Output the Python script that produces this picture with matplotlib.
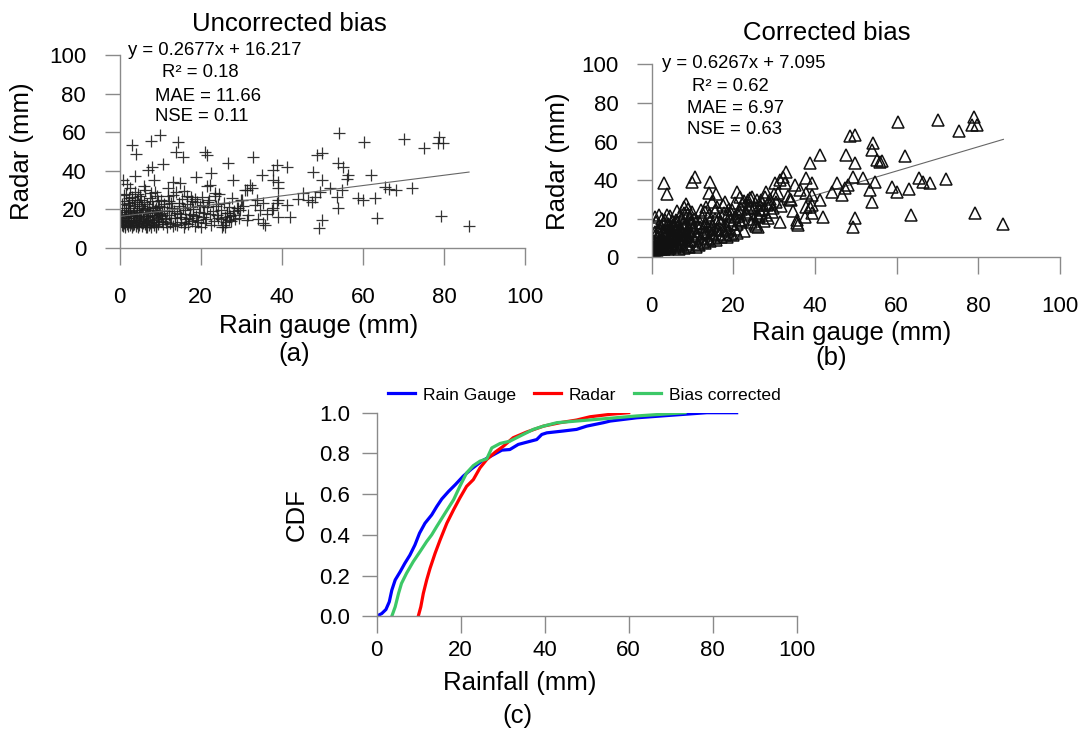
import matplotlib
matplotlib.use('Agg')
import matplotlib.pyplot as plt

plt.rcParams['font.family'] = ['Liberation Sans', 'DejaVu Sans']

# rain gauge vs radar vs bias corrected radar (mm), one entry per event
gauge = [70.2, 75.2, 78.9, 78.6, 79.7, 65.5, 66.5, 68.2, 72.1, 63.0,
         63.6, 79.2, 86.2, 62.0, 54.2, 60.3, 49.9, 48.6, 54.0, 55.2,
         56.4, 56.0, 47.6, 49.9, 41.2, 42.0, 41.2, 45.3, 46.6, 47.4,
         48.2, 49.4, 51.9, 49.9, 49.3, 53.6, 54.0, 54.8, 58.9, 60.1,
         44.1, 38.9, 33.0, 37.9, 35.1, 32.2, 32.6, 31.4, 39.2, 37.9,
         39.2, 39.2, 38.8, 37.9, 37.5, 39.2, 35.5, 35.5, 35.8, 31.4,
         29.7, 33.8, 34.6, 28.0, 30.2, 30.9, 26.8, 21.0, 21.7, 22.6,
         22.2, 18.9, 20.5, 21.5, 22.0, 23.0, 24.0, 25.0, 25.5, 26.0,
         26.5, 27.0, 27.5, 28.0, 29.0, 24.5, 23.5, 20.5, 21.0, 22.5,
         26.0, 26.5, 26.9, 25.3, 29.9, 29.1, 21.5, 23.6, 24.2, 28.6,
         14.4, 14.0, 15.7, 10.7, 13.2, 14.8, 10.2, 10.5, 10.8, 11.0,
         11.3, 11.6, 11.9, 12.2, 12.5, 12.8, 13.1, 13.4, 13.7, 14.0,
         14.3, 14.6, 14.9, 15.2, 15.5, 15.8, 16.1, 16.4, 16.7, 17.0,
         17.3, 17.6, 17.9, 18.2, 18.5, 18.8, 19.1, 19.4, 19.7, 20.0,
         12.0, 16.0, 18.0, 10.4, 13.0, 9.9, 7.8, 8.0, 7.0, 5.0,
         5.2, 5.4, 5.6, 5.8, 6.0, 6.2, 6.4, 6.6, 6.8, 7.0,
         7.2, 7.4, 7.6, 7.8, 8.0, 8.2, 8.4, 8.6, 8.8, 9.0,
         9.2, 9.4, 9.6, 9.8, 6.1, 8.5, 9.1, 6.9, 5.5, 7.5,
         9.5, 8.9, 6.5, 0.3, 0.5, 0.6, 0.9, 0.9, 1.0, 1.1,
         1.2, 1.4, 1.4, 1.6, 1.7, 1.7, 1.9, 2.0, 2.0, 2.2,
         2.3, 2.3, 2.5, 2.6, 2.6, 2.8, 2.9, 3.0, 3.1, 3.1,
         3.3, 3.4, 3.5, 3.5, 3.7, 3.8, 3.8, 4.0, 4.1, 4.1,
         4.3, 4.4, 4.4, 4.6, 4.7, 4.8, 4.8, 4.9,
         0.4, 0.7, 0.8, 1.0, 1.3, 1.5, 1.8, 2.0, 2.2, 2.4,
         2.7, 2.9, 3.2, 3.4, 3.6, 3.9, 4.1, 4.3, 4.6, 4.9,
         5.1, 5.3, 5.7, 5.9, 6.3, 6.5, 6.7, 7.1, 7.3, 7.7,
         7.9, 8.1, 8.3, 8.7, 8.9, 9.3, 9.5, 9.7, 9.9, 6.0,
         10.3, 10.9, 11.4, 11.8, 12.3, 12.7, 13.3, 13.8, 14.2, 14.7,
         15.1, 15.6, 16.2, 16.6, 17.1, 17.5, 18.1, 18.6, 19.2, 19.8,
         20.3, 20.8, 21.3, 21.9, 22.4, 23.2, 23.8, 24.4, 25.1, 25.7,
         26.2, 27.2, 27.8, 28.3, 29.4, 30.5, 31.8, 33.3, 34.2, 36.4]

radar = [56.3, 51.6, 57.7, 54.2, 54.2, 31.4, 30.3, 30.0, 30.9, 25.7,
         15.6, 16.5, 11.4, 37.8, 59.7, 54.7, 49.0, 48.2, 43.8, 42.1,
         37.8, 35.5, 39.5, 35.2, 42.1, 16.1, 22.2, 28.3, 24.8, 23.9,
         26.5, 29.1, 30.9, 14.4, 10.1, 26.5, 20.5, 30.0, 25.7, 24.8,
         25.5, 43.0, 47.0, 40.4, 37.8, 32.6, 30.9, 30.0, 34.3, 35.2,
         30.9, 24.8, 23.1, 20.5, 19.6, 16.1, 23.1, 12.7, 12.0, 14.4,
         19.6, 24.8, 19.6, 35.2, 25.0, 30.0, 43.8, 49.9, 48.2, 38.6,
         32.6, 36.9, 22.0, 21.0, 25.0, 19.0, 17.0, 15.0, 12.0, 11.0,
         18.0, 21.0, 14.0, 17.0, 20.5, 28.0, 27.0, 16.0, 13.0, 12.0,
         16.0, 17.9, 14.4, 10.9, 24.8, 20.5, 31.8, 28.3, 22.5, 15.0,
         55.1, 49.6, 47.3, 43.3, 34.3, 33.5, 25.0, 18.0, 12.5, 21.0,
         15.0, 11.0, 27.0, 17.0, 13.0, 23.0, 11.5, 19.0, 15.5, 29.0,
         12.0, 21.5, 17.5, 13.5, 25.5, 11.0, 19.5, 15.0, 22.5, 12.5,
         17.5, 26.5, 14.0, 20.0, 11.5, 16.5, 23.5, 13.5, 18.5, 11.0,
         31.0, 29.5, 24.0, 14.0, 20.5, 58.5, 55.6, 42.1, 40.4, 27.0,
         13.5, 18.0, 11.5, 15.0, 23.5, 12.5, 20.0, 14.0, 10.5, 16.5,
         12.0, 26.0, 18.5, 11.0, 14.5, 21.0, 12.0, 16.0, 29.0, 11.5,
         19.0, 13.5, 24.0, 15.5, 32.0, 35.0, 10.5, 18.0, 21.5, 13.0,
         17.0, 20.5, 11.0, 14.5, 12.0, 17.0, 35.2, 11.5, 20.5, 13.0,
         24.0, 16.0, 11.0, 28.0, 14.0, 18.5, 12.5, 22.0, 15.5, 11.5,
         26.0, 13.5, 19.0, 12.0, 31.0, 16.5, 13.0, 24.8, 11.0, 53.4,
         18.0, 14.5, 21.5, 12.5, 37.0, 15.5, 29.1, 11.5, 17.0, 48.5,
         13.0, 25.0, 19.5, 11.0, 14.0, 22.5, 16.0, 12.0,
         16.5, 22.5, 13.5, 27.5, 12.0, 19.5, 33.0, 14.5, 17.5, 23.0,
         20.5, 14.0, 26.5, 12.0, 16.5, 23.5, 14.5, 18.5, 28.0, 20.5,
         16.5, 25.0, 13.0, 19.5, 30.0, 16.5, 22.5, 14.5, 20.5, 28.5,
         17.0, 24.5, 13.5, 19.5, 15.0, 27.0, 12.5, 21.5, 17.5, 15.5,
         16.5, 22.5, 13.5, 19.0, 24.5, 15.5, 27.5, 12.5, 18.0, 23.0,
         16.0, 20.5, 13.0, 27.0, 15.5, 21.0, 17.0, 25.5, 14.5, 21.5,
         26.5, 18.0, 15.0, 23.5, 17.5, 14.0, 21.5, 15.5, 19.5, 23.0,
         13.5, 16.5, 26.0, 19.0, 15.5, 21.5, 17.0, 22.0, 15.0, 17.5]

corrected = [71.1, 65.6, 72.8, 68.5, 68.5, 40.9, 39.2, 38.3, 40.4, 35.2,
             21.9, 22.8, 17.3, 52.5, 59.1, 70.3, 63.4, 62.8, 55.6, 50.4,
             50.1, 49.5, 53.0, 48.7, 53.0, 20.7, 29.7, 38.3, 32.3, 35.8,
             37.5, 41.8, 40.9, 20.2, 15.5, 34.9, 28.8, 39.2, 36.3, 34.0,
             34.0, 48.7, 44.4, 40.9, 37.5, 41.8, 38.3, 40.1, 38.3, 33.2,
             32.3, 27.1, 26.2, 26.2, 21.0, 22.8, 19.3, 17.6, 16.5, 18.4,
             25.4, 30.0, 24.0, 34.0, 38.3, 33.3, 29.8, 34.0, 31.5, 29.0,
             27.5, 25.0, 21.0, 24.0, 18.5, 22.5, 26.0, 20.0, 16.0, 15.5,
             24.5, 28.0, 19.0, 22.0, 30.0, 31.0, 29.5, 14.5, 12.5, 13.5,
             21.5, 27.0, 23.0, 17.5, 33.0, 27.5, 19.5, 25.5, 30.5, 20.5,
             38.9, 33.2, 32.8, 41.8, 26.0, 28.5, 15.0, 9.0, 5.5, 12.0,
             7.0, 6.5, 18.0, 10.0, 8.0, 16.0, 7.5, 12.5, 9.5, 22.0,
             8.5, 15.0, 11.5, 10.0, 20.0, 9.0, 14.5, 12.0, 18.5, 10.5,
             14.0, 23.0, 11.5, 16.5, 10.5, 13.5, 21.5, 12.0, 17.0, 11.5,
             24.5, 26.0, 28.5, 20.0, 23.5, 39.2, 26.0, 23.0, 21.5, 19.0,
             7.5, 11.0, 5.5, 9.0, 17.5, 7.0, 13.5, 8.5, 4.5, 11.0,
             6.5, 20.0, 12.5, 5.0, 9.5, 16.0, 7.0, 11.5, 22.5, 6.0,
             14.0, 9.0, 18.5, 11.0, 24.0, 27.5, 5.5, 14.5, 16.0, 10.0,
             20.5, 25.0, 9.5, 4.0, 3.6, 5.5, 21.0, 3.8, 7.5, 4.5,
             10.5, 6.0, 3.9, 14.0, 4.8, 8.0, 4.2, 12.0, 6.5, 4.4,
             16.0, 5.5, 9.5, 4.6, 20.0, 7.5, 5.0, 18.0, 4.5, 38.3,
             10.0, 6.5, 13.5, 5.5, 22.0, 8.0, 32.8, 4.5, 9.5, 17.0,
             6.0, 16.5, 12.0, 5.0, 7.0, 15.0, 9.0, 6.5,
             8.5, 13.0, 6.0, 18.5, 5.0, 11.0, 22.0, 7.5, 9.0, 15.5,
             13.0, 8.5, 19.5, 6.0, 11.5, 17.5, 8.0, 14.0, 21.5, 12.5,
             12.0, 15.5, 10.0, 14.5, 19.0, 6.0, 16.5, 13.0, 8.0, 18.0,
             15.5, 12.0, 17.5, 9.0, 13.5, 21.0, 8.5, 16.5, 23.5, 19.5,
             13.5, 18.0, 11.0, 15.5, 21.0, 13.0, 17.0, 14.5, 19.0, 12.5,
             16.0, 24.0, 14.0, 20.5, 17.5, 27.0, 14.5, 22.5, 19.5, 24.5,
             28.0, 17.0, 21.5, 25.0, 19.5, 23.5, 27.0, 18.5, 25.5, 29.5,
             21.0, 25.0, 31.5, 27.0, 23.5, 28.5, 26.5, 32.0, 29.5, 35.0]

# empirical CDF curves (rainfall mm, cumulative probability)
cdf_gauge_x = [0, 1.2, 2.2, 3.0, 3.6, 4.4, 5.6, 6.7, 7.9, 9.1, 10.2, 11.5, 13.1,
               14.3, 15.5, 17.1, 18.7, 20.6, 22.6, 25.0, 27.4, 29.8, 31.7, 33.7,
               35.7, 38.1, 39.3, 40.5, 44.4, 47.6, 50.0, 54.0, 55.6, 61.9, 69.8,
               78.6, 85.7]
cdf_gauge_p = [0, 0.013, 0.033, 0.071, 0.128, 0.178, 0.219, 0.26, 0.30, 0.35, 0.408,
               0.457, 0.498, 0.539, 0.576, 0.613, 0.646, 0.688, 0.724, 0.762, 0.789,
               0.816, 0.819, 0.844, 0.855, 0.868, 0.893, 0.901, 0.91, 0.918, 0.934,
               0.951, 0.959, 0.975, 0.987, 1.0, 1.0]

cdf_radar_x = [9.9, 10.5, 11.1, 11.9, 12.7, 13.9, 15.1, 16.7, 18.3, 19.8, 21.4,
               23.0, 24.6, 26.2, 28.2, 30.2, 32.5, 35.7, 39.7, 43.7, 47.6, 50.8,
               55.6, 60.0]
cdf_radar_p = [0, 0.046, 0.112, 0.178, 0.235, 0.309, 0.375, 0.457, 0.523, 0.581,
               0.638, 0.671, 0.729, 0.77, 0.806, 0.836, 0.877, 0.905, 0.934, 0.951,
               0.964, 0.98, 0.992, 1.0]

cdf_corr_x = [3.6, 4.4, 5.2, 5.9, 7.1, 8.7, 10.3, 11.9, 13.1, 14.3, 16.3, 18.3,
              19.8, 21.4, 23.0, 24.6, 26.2, 27.4, 29.4, 31.7, 34.1, 37.3, 39.7,
              42.9, 47.6, 54.0, 61.9, 73.4]
cdf_corr_p = [0, 0.046, 0.112, 0.161, 0.211, 0.268, 0.317, 0.367, 0.40, 0.441,
              0.507, 0.572, 0.638, 0.704, 0.74, 0.762, 0.773, 0.827, 0.849, 0.86,
              0.885, 0.918, 0.934, 0.951, 0.959, 0.970, 0.984, 1.0]

fit_a = (0.2677, 16.217)
fit_b = (0.6267, 7.095)
stats_a = ['y = 0.2677x + 16.217', 'R\u00b2 = 0.18', 'MAE = 11.66', 'NSE = 0.11']
stats_b = ['y = 0.6267x + 7.095', 'R\u00b2 = 0.62', 'MAE = 6.97', 'NSE = 0.63']

W, H = 1089, 731
AXIS_GREY = '#8a8a8a'


def rect(left, right, top, bottom):
    return [left / W, 1 - bottom / H, (right - left) / W, (bottom - top) / H]


def style(ax, xpad, ypad):
    for s in ['top', 'right']:
        ax.spines[s].set_visible(False)
    for s in ['left', 'bottom']:
        ax.spines[s].set_color(AXIS_GREY)
        ax.spines[s].set_linewidth(1.0)
    ax.tick_params(direction='out', color=AXIS_GREY, width=1.0, labelsize=16)
    ax.tick_params(axis='x', length=12, pad=xpad)
    ax.tick_params(axis='y', length=11, pad=ypad)


fig = plt.figure(figsize=(W / 100, H / 100), dpi=100)

# (a) uncorrected
ax1 = fig.add_axes(rect(119.5, 525, 55.2, 247.7))
ax1.plot(gauge, radar, linestyle='none', marker='+', markersize=9,
         markeredgewidth=0.9, color='#1e1e1e', alpha=0.9)
xs = [min(gauge), max(gauge)]
ax1.plot(xs, [fit_a[0] * x + fit_a[1] for x in xs], color='#666666', lw=0.8)
ax1.set_xlim(0, 100)
ax1.set_ylim(0, 100)
ax1.set_xticks(range(0, 101, 20))
ax1.set_yticks(range(0, 101, 20))
style(ax1, 16, 13)
ax1.text(0.42, 1.162, 'Uncorrected bias', transform=ax1.transAxes,
         fontsize=18.5, ha='center', va='center')
ax1.set_xlabel('Rain gauge (mm)', fontsize=18.5, va='center')
ax1.xaxis.set_label_coords(0.49, -0.405)
ax1.set_ylabel('Radar (mm)', fontsize=18.5, va='center')
ax1.yaxis.set_label_coords(-0.24, 0.5)
ax1.text(0.43, -0.55, '(a)', transform=ax1.transAxes, fontsize=18.5,
         ha='center', va='center')
for (tx, ty), s in zip([(2.1, 102.7), (10.5, 90.9), (8.8, 78.8), (8.8, 67.9)], stats_a):
    ax1.text(tx, ty, s, fontsize=13.3, ha='left', va='center')

# (b) corrected
ax2 = fig.add_axes(rect(651.7, 1059.7, 64.3, 257.3))
ax2.plot(xs, [fit_b[0] * x + fit_b[1] for x in xs], color='#666666', lw=0.8)
ax2.plot(gauge, corrected, linestyle='none', marker='^', markersize=8.5,
         markeredgewidth=1.1, markerfacecolor='none', markeredgecolor='#111111')
ax2.set_xlim(0, 100)
ax2.set_ylim(0, 100)
ax2.set_xticks(range(0, 101, 20))
ax2.set_yticks(range(0, 101, 20))
style(ax2, 16, 13)
ax2.text(0.43, 1.162, 'Corrected bias', transform=ax2.transAxes,
         fontsize=18.5, ha='center', va='center')
ax2.set_xlabel('Rain gauge (mm)', fontsize=18.5, va='center')
ax2.xaxis.set_label_coords(0.49, -0.39)
ax2.set_ylabel('Radar (mm)', fontsize=18.5, va='center')
ax2.yaxis.set_label_coords(-0.23, 0.5)
ax2.text(0.44, -0.52, '(b)', transform=ax2.transAxes, fontsize=18.5,
         ha='center', va='center')
for (tx, ty), s in zip([(2.45, 100.2), (9.9, 88.7), (8.6, 77.2), (8.6, 66.0)], stats_b):
    ax2.text(tx, ty, s, fontsize=13.3, ha='left', va='center')

# (c) CDF
ax3 = fig.add_axes(rect(376.7, 796.7, 412.7, 616.2))
ax3.plot(cdf_gauge_x, cdf_gauge_p, color='#0000ff', lw=2.3, label='Rain Gauge')
ax3.plot(cdf_radar_x, cdf_radar_p, color='#ff0000', lw=2.3, label='Radar')
ax3.plot(cdf_corr_x, cdf_corr_p, color='#3cc867', lw=2.3, label='Bias corrected')
ax3.set_xlim(0, 100)
ax3.set_ylim(0, 1.0)
ax3.set_xticks(range(0, 101, 20))
ax3.set_yticks([0, 0.2, 0.4, 0.6, 0.8, 1.0])
ax3.set_yticklabels(['0.0', '0.2', '0.4', '0.6', '0.8', '1.0'])
style(ax3, 5, 8)
ax3.set_xlabel('Rainfall (mm)', fontsize=18.5, va='center')
ax3.xaxis.set_label_coords(0.34, -0.33)
ax3.set_ylabel('CDF', fontsize=18.5, va='center')
ax3.yaxis.set_label_coords(-0.19, 0.5)
ax3.text(0.335, -0.49, '(c)', transform=ax3.transAxes, fontsize=18.5,
         ha='center', va='center')
ax3.legend(loc='center', bbox_to_anchor=(0.494, 1.087), ncol=3, frameon=False,
           fontsize=12.6, handlelength=1.55, handletextpad=0.45,
           columnspacing=1.0, borderpad=0)

fig.savefig('out.png', dpi=100)
